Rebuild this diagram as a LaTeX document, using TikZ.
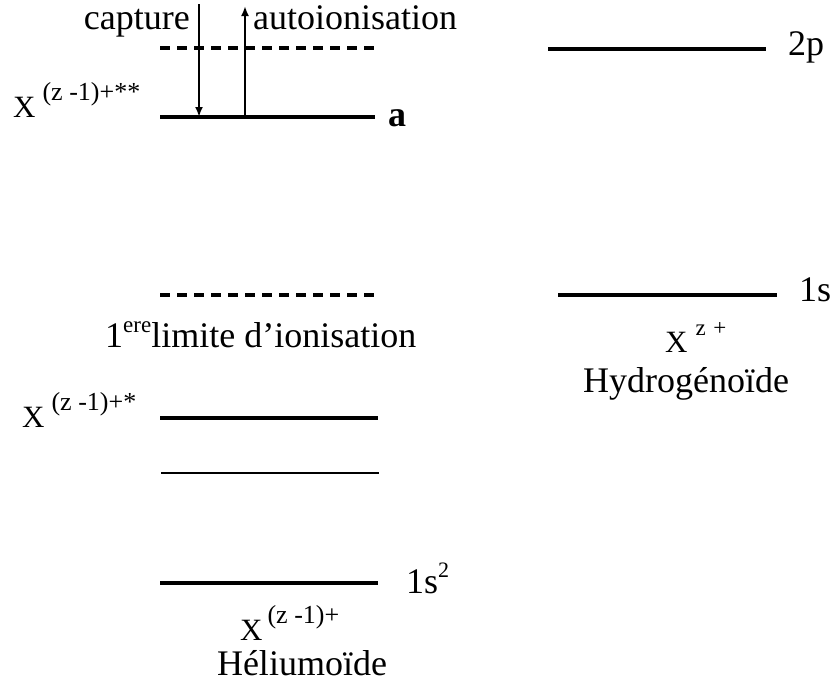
\documentclass[tikz,border=0pt]{standalone}
\usepackage{fontspec}
\setmainfont{Liberation Serif}
\usetikzlibrary{arrows.meta}
% ion symbol: X with raised charge
\newcommand{\ionX}[2][5pt]{{\fontsize{31}{31}\selectfont X}\hspace{#1}\raisebox{17pt}{\fontsize{26}{26}\selectfont #2}}

\begin{document}
\begin{tikzpicture}[x=1pt, y=-1pt,
    every node/.style={inner sep=0pt, font=\fontsize{36}{40}\selectfont},
    level/.style={line width=3.5pt},
    thinlevel/.style={line width=2.5pt},
    limit/.style={line width=3.5pt, dash pattern=on 10pt off 7pt},
    trans/.style={line width=2.8pt, -{Latex[length=10pt, width=8pt]}}]
  \useasboundingbox (0,0) rectangle (832,691);

  % heliumoid ion (left column)
  \coordinate (lim2-l) at (160,48);  \coordinate (lim2-r) at (377,48);
  \coordinate (a-l)    at (160,117); \coordinate (a-r)    at (375,117);
  \coordinate (lim1-l) at (160,295); \coordinate (lim1-r) at (378,295);
  \coordinate (ex1-l)  at (160,418); \coordinate (ex1-r)  at (378,418);
  \coordinate (ex2-l)  at (161,473); \coordinate (ex2-r)  at (379,473);
  \coordinate (gs-l)   at (160,583); \coordinate (gs-r)   at (378,583);
  \draw[limit] (lim2-l) -- (lim2-r);
  \draw[level] (a-l) -- (a-r);
  \draw[limit] (lim1-l) -- (lim1-r);
  \draw[level] (ex1-l) -- (ex1-r);
  \draw[thinlevel] (ex2-l) -- (ex2-r);
  \draw[level] (gs-l) -- (gs-r);

  \node[anchor=base west, font=\fontsize{36}{40}\selectfont\bfseries] (a-lab) at (388,126) {a};
  \node[anchor=base west] (gs-lab) at (406,593) {1s\raisebox{16pt}{\fontsize{22}{22}\selectfont 2}};
  \node[anchor=base west] (lim1-lab) at (105,347)
    {1\raisebox{15pt}{\fontsize{23}{23}\selectfont ere}limite d’ionisation};
  \node[anchor=base west] (ionA) at (13,117) {\ionX[7pt]{(z -1)+**}};
  \node[anchor=base west] (ionB) at (22,427) {\ionX[7pt]{(z -1)+*}};
  \node[anchor=base west] (ionC) at (240,640) {\ionX{(z -1)+}};
  \node[anchor=base] (helium) at (302,675) {Héliumoïde};

  % capture and autoionisation
  \coordinate (cap-top)  at (199,4);
  \coordinate (auto-top) at (245,6);
  \draw[trans] (cap-top) -- (cap-top |- a-l);
  \draw[trans] (auto-top |- a-l) -- (auto-top);
  \node[anchor=base east] (cap-lab) at (190,29) {capture};
  \node[anchor=base west] (auto-lab) at (253,29) {autoionisation};

  % hydrogenoid ion (right column)
  \coordinate (p2-l) at (548,49);  \coordinate (p2-r) at (766,49);
  \coordinate (s1-l) at (558,295); \coordinate (s1-r) at (777,295);
  \draw[level] (p2-l) -- (p2-r);
  \draw[level] (s1-l) -- (s1-r);
  \node[anchor=base west] (p2-lab) at (788,55) {2p};
  \node[anchor=base west] (s1-lab) at (799,301) {1s};
  \node[anchor=base west] (ionH) at (665,352) {\ionX[8pt]{\fontsize{23}{23}\selectfont z\,\,+}};
  \node[anchor=base] (hydro) at (686,392) {Hydrogénoïde};
\end{tikzpicture}
\end{document}
